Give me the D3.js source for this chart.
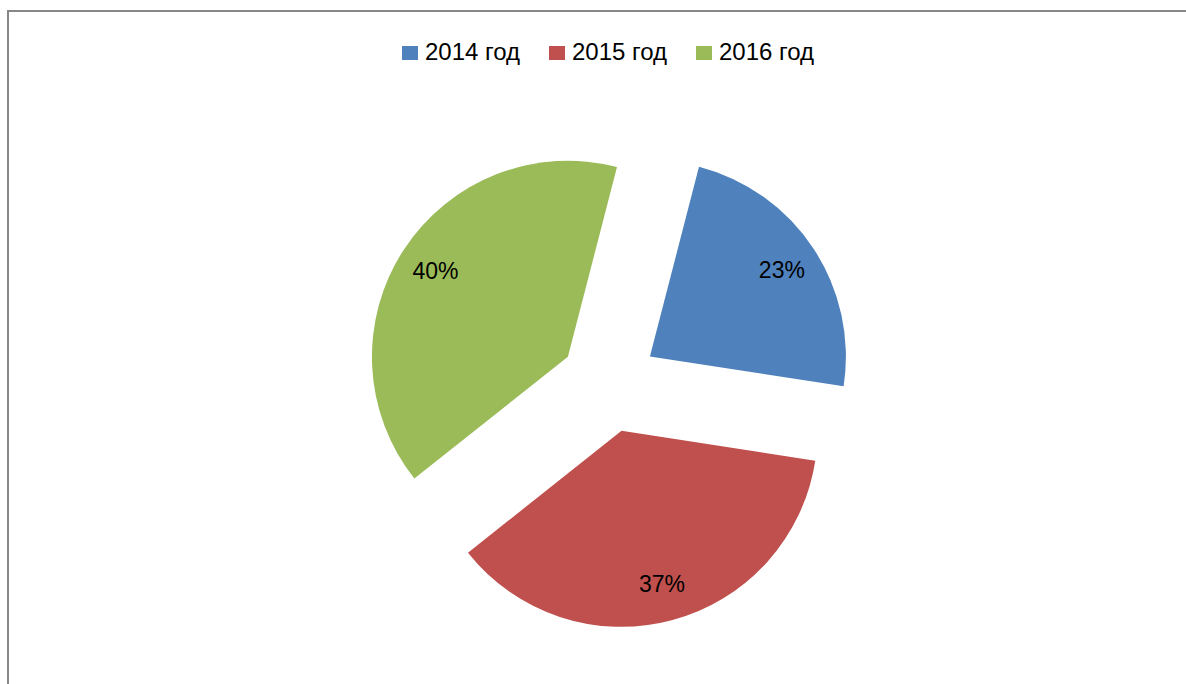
<!DOCTYPE html>
<html>
<head>
<meta charset="utf-8">
<script src="https://cdn.jsdelivr.net/npm/d3@7"></script>
<style>
  html, body { margin: 0; padding: 0; background: #fff; }
  text { font-family: 'Liberation Sans', Arial, sans-serif; }
</style>
</head>
<body>
<div id="chart"></div>
<script>
// данные
const categories = ['2014 год', '2015 год', '2016 год']
const values = [23.4, 36.9, 39.7]
const colors = ['#4F81BD', '#C0504D', '#9BBB59']

const width = 1186
const height = 684

let svg = d3.select('#chart').append('svg').attr('width', width).attr('height', height)

// рамка области диаграммы
svg.append('rect')
  .attr('x', 8).attr('y', 11)
  .attr('width', width + 20).attr('height', height + 20)
  .attr('fill', '#fff').attr('stroke', '#878787').attr('stroke-width', 2)

// легенда
let legendX = d3.scalePoint().domain(categories).range([402, 696])
let legend = svg.append('g').attr('class', 'legend')
categories.forEach((c, i) => {
  let g = legend.append('g').attr('transform', 'translate(' + legendX(c) + ',46)')
  g.append('rect').attr('width', 16).attr('height', 14).attr('fill', colors[i])
  g.append('text').attr('x', 23).attr('y', 14).attr('font-size', 24).attr('fill', '#000').text(c)
})

// пирог
let cx = 609
let cy = 383.5
let radius = 196
let explode = 49
let total = d3.sum(values)

let pie = d3.pie().sort(null).startAngle(14.5 * Math.PI / 180).endAngle(14.5 * Math.PI / 180 + 2 * Math.PI)
let arc = d3.arc().innerRadius(0).outerRadius(radius)
let labelArc = d3.arc().innerRadius(158).outerRadius(158)

let slices = svg.append('g').attr('class', 'pie').attr('transform', 'translate(' + cx + ',' + cy + ')')
  .selectAll('g').data(pie(values)).enter().append('g')
  .attr('transform', d => {
    let a = (d.startAngle + d.endAngle) / 2
    return 'translate(' + (explode * Math.sin(a)) + ',' + (-explode * Math.cos(a)) + ')'
  })

slices.append('path').attr('d', arc).attr('fill', (d, i) => colors[i])

slices.append('text')
  .attr('transform', d => 'translate(' + labelArc.centroid(d) + ')')
  .attr('text-anchor', 'middle')
  .attr('dy', '0.36em')
  .attr('font-size', 23)
  .attr('fill', '#000')
  .text(d => Math.round(d.value / total * 100) + '%')
</script>
</body>
</html>
